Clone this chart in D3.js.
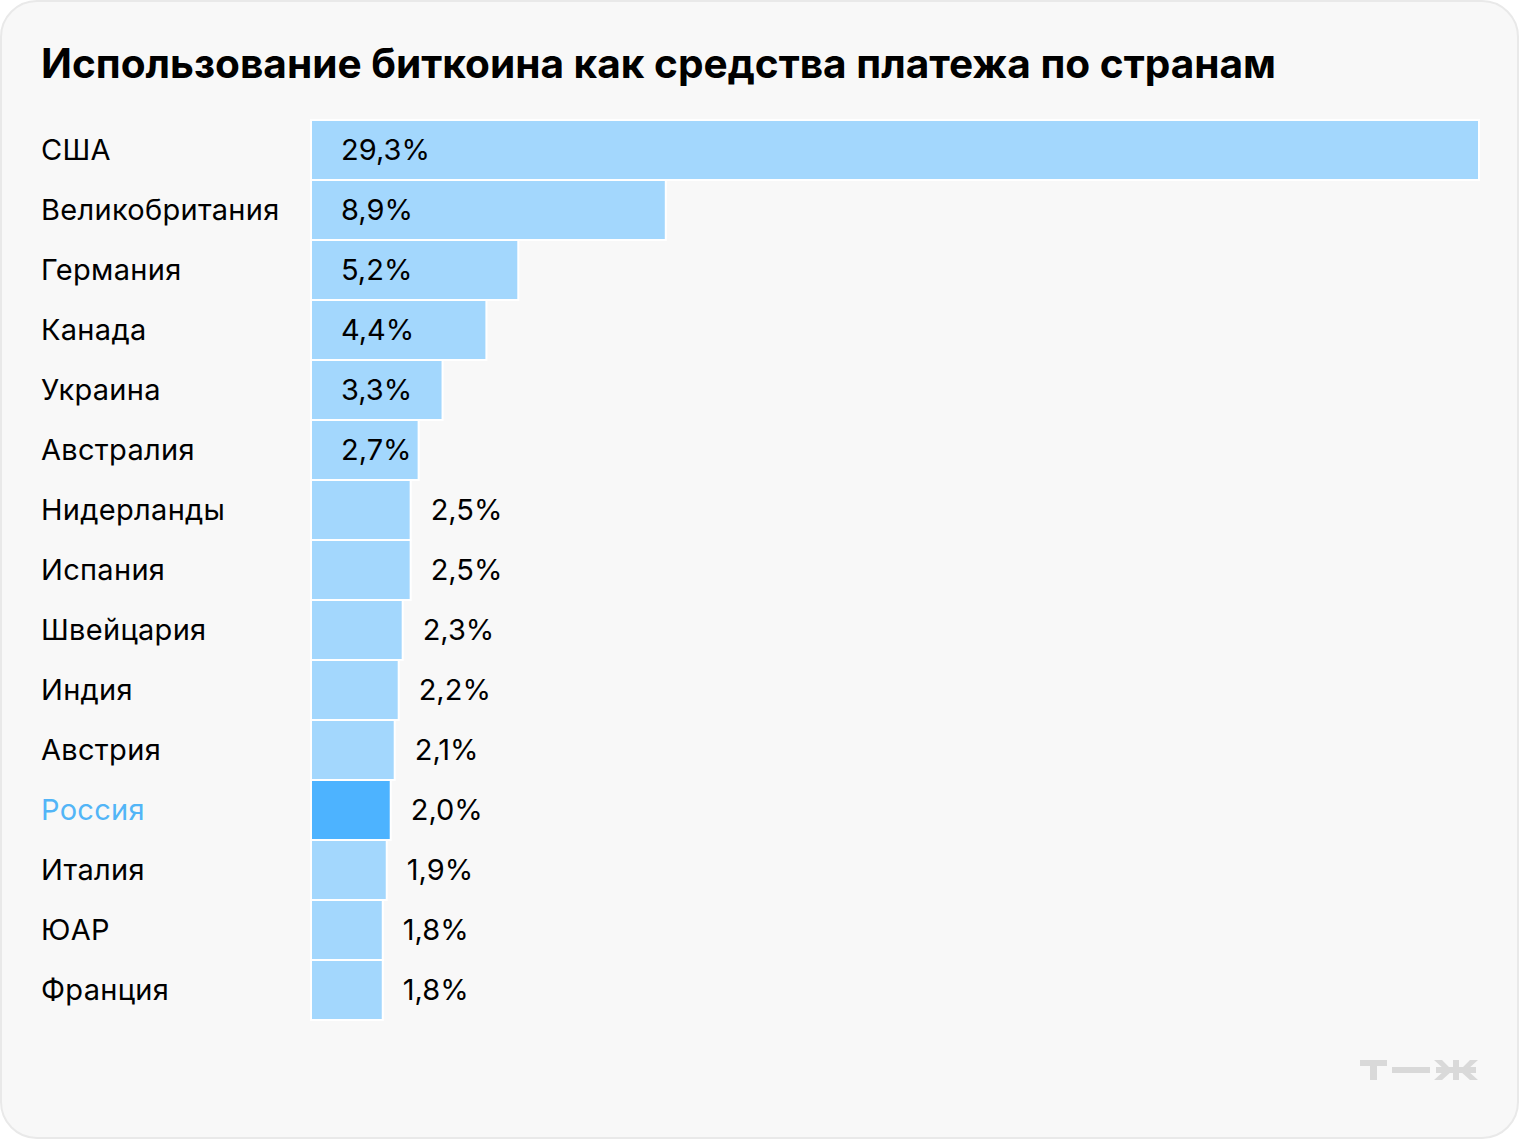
<!DOCTYPE html>
<html><head><meta charset="utf-8">
<script src="https://cdn.jsdelivr.net/npm/d3@7"></script>
<style>html,body{margin:0;padding:0;background:#fff;}</style>
</head><body>
<script>
const countries = ["США","Великобритания","Германия","Канада","Украина","Австралия","Нидерланды","Испания","Швейцария","Индия","Австрия","Россия","Италия","ЮАР","Франция"];
const values = [29.3,8.9,5.2,4.4,3.3,2.7,2.5,2.5,2.3,2.2,2.1,2.0,1.9,1.8,1.8];
const valueLabels = ["29,3%","8,9%","5,2%","4,4%","3,3%","2,7%","2,5%","2,5%","2,3%","2,2%","2,1%","2,0%","1,9%","1,8%","1,8%"];
const highlight = ["Россия"];
const title = "Использование биткоина как средства платежа по странам";

const W = 1520, H = 1140;
const svg = d3.select("body").append("svg").attr("width", W).attr("height", H);
svg.append("rect").attr("x",1).attr("y",1).attr("width",W-3).attr("height",H-3)
  .attr("rx",36).attr("fill","#f8f8f8").attr("stroke","#e9e9e9").attr("stroke-width",2);

svg.append("text").attr("x",41).attr("y",78).text(title)
  .attr("font-family","Inter, Roboto, sans-serif").attr("font-weight",700)
  .attr("font-size",40.6).attr("fill","#000");

const x = d3.scaleLinear().domain([0,29.3]).range([311,1479]);
const y = d3.scaleBand().domain(countries).range([120,1020]).padding(0);

const g = svg.append("g");
g.selectAll("rect.bar").data(countries).join("rect").attr("class","bar")
  .attr("x",x(0)).attr("y",d=>y(d)).attr("width",(d,i)=>x(values[i])-x(0))
  .attr("height",y.bandwidth())
  .attr("fill",d=>highlight.includes(d)?"#4db3ff":"#a3d7fd")
  .attr("stroke","#fff").attr("stroke-width",2);

const font = "Inter, Roboto, sans-serif";
g.selectAll("text.cat").data(countries).join("text").attr("class","cat")
  .attr("x",41).attr("y",d=>y(d)+y.bandwidth()/2).attr("dy","0.35em")
  .attr("font-family",font).attr("font-size",29).attr("letter-spacing",0.3)
  .attr("fill",d=>highlight.includes(d)?"#52b5f7":"#000").text(d=>d);

g.selectAll("text.val").data(countries).join("text").attr("class","val")
  .attr("x",(d,i)=> values[i] >= 2.7 ? x(0)+30 : x(values[i])+20)
  .attr("y",d=>y(d)+y.bandwidth()/2).attr("dy","0.35em")
  .attr("font-family",font).attr("font-size",29).attr("fill","#000")
  .text((d,i)=>valueLabels[i]);

// logo т—ж
const lg = svg.append("g").attr("fill","#d9d9d9");
lg.append("rect").attr("x",1360).attr("y",1060).attr("width",27).attr("height",6);
lg.append("rect").attr("x",1370).attr("y",1060).attr("width",7).attr("height",20);
lg.append("rect").attr("x",1392).attr("y",1067).attr("width",38).attr("height",6);
lg.append("rect").attr("x",1453).attr("y",1060).attr("width",6).attr("height",20);
lg.append("rect").attr("x",1436).attr("y",1067).attr("width",40).attr("height",6);
lg.append("polygon").attr("points","1434,1060 1442,1060 1452,1070 1452,1071 1442,1080 1434,1080 1445,1070");
lg.append("polygon").attr("points","1478,1060 1470,1060 1460,1070 1460,1071 1470,1080 1478,1080 1467,1070");
</script>
</body></html>
